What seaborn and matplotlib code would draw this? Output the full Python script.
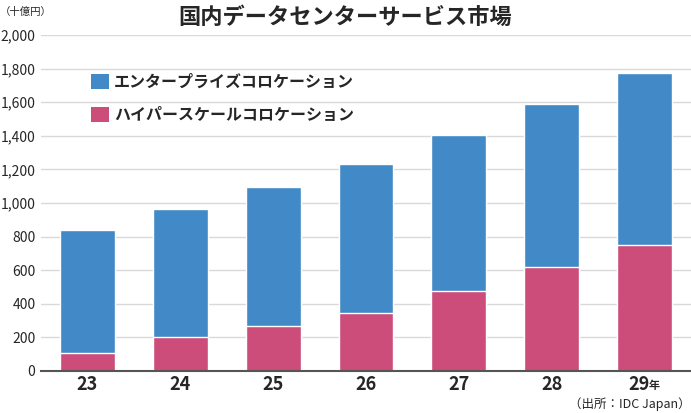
import matplotlib
matplotlib.use("Agg")
import matplotlib.pyplot as plt
import matplotlib.transforms as mtransforms
from matplotlib.patches import Patch
import numpy as np
import pandas as pd
import seaborn as sns

years = ["23", "24", "25", "26", "27", "28", "29"]
hyperscale = [110, 202, 265, 343, 478, 620, 750]
enterprise = [730, 763, 832, 889, 927, 970, 1023]
yticks = [0, 200, 400, 600, 800, 1000, 1200, 1400, 1600, 1800, 2000]

blue = "#4189c7"
pink = "#cd4d7a"

sns.set_style("white")
plt.rcParams["font.family"] = ["Noto Sans CJK JP", "DejaVu Sans"]

df = pd.DataFrame({"year": years, "hyper": hyperscale, "ent": enterprise})
df["total"] = df["hyper"] + df["ent"]

fig = plt.figure(figsize=(6.91, 4.13), dpi=100)
ax = fig.add_axes([41 / 691, 42 / 413, 650 / 691, 336 / 413])

# stacked: total first (blue), then hyperscale over it (pink)
sns.barplot(data=df, x="year", y="total", color=blue, width=0.59,
            saturation=1, ax=ax, zorder=3)
sns.barplot(data=df, x="year", y="hyper", color=pink, width=0.59,
            saturation=1, ax=ax, zorder=4)

ax.set_xlim(-0.5, 6.5)
ax.set_ylim(0, 2000)
ax.set_yticks(yticks)
ax.set_yticklabels([f"{v:,}" for v in yticks], fontsize=10)
ax.set_xticks(range(len(years)))
ax.set_xticklabels(years, fontsize=13, fontweight="bold")
ax.set_xlabel("")
ax.set_ylabel("")
ax.tick_params(axis="both", length=0)
ax.tick_params(axis="y", pad=4)
ax.tick_params(axis="x", pad=3)
ax.grid(axis="y", color="#d9d9d9", lw=1, zorder=0)
for s in ["top", "right", "left"]:
    ax.spines[s].set_visible(False)
ax.spines["bottom"].set_color("#555555")
ax.spines["bottom"].set_linewidth(1.5)
ax.spines["bottom"].set_zorder(5)

# shift "29" a little left, then add small 年
lbl = ax.get_xticklabels()[-1]
lbl.set_transform(lbl.get_transform() + mtransforms.ScaledTranslation(-6 / 100, 0, fig.dpi_scale_trans))
trans = mtransforms.blended_transform_factory(ax.transData, fig.transFigure)
ax.text(6.04, 1 - 385 / 413, "年", transform=trans, fontsize=8, fontweight="bold",
        ha="left", va="center")

handles = [Patch(facecolor=blue, edgecolor="none"), Patch(facecolor=pink, edgecolor="none")]
ax.legend(handles, ["エンタープライズコロケーション", "ハイパースケールコロケーション"],
          loc="upper left", bbox_to_anchor=(0.077, 0.885), frameon=False,
          borderpad=0, borderaxespad=0, handlelength=1.1, handleheight=1.1,
          handletextpad=0.35, labelspacing=1.05,
          prop={"size": 11.5, "weight": "bold"})

fig.text(0.5, 1 - 17 / 413, "国内データセンターサービス市場", ha="center", va="center",
         fontsize=16, fontweight="bold")
fig.text(0.0, 1 - 12 / 413, "（十億円）", ha="left", va="center", fontsize=7.5)
fig.text(1.0, 1 - 404 / 413, "（出所：IDC Japan）", ha="right", va="center", fontsize=9)

fig.savefig("out.png", dpi=100)
